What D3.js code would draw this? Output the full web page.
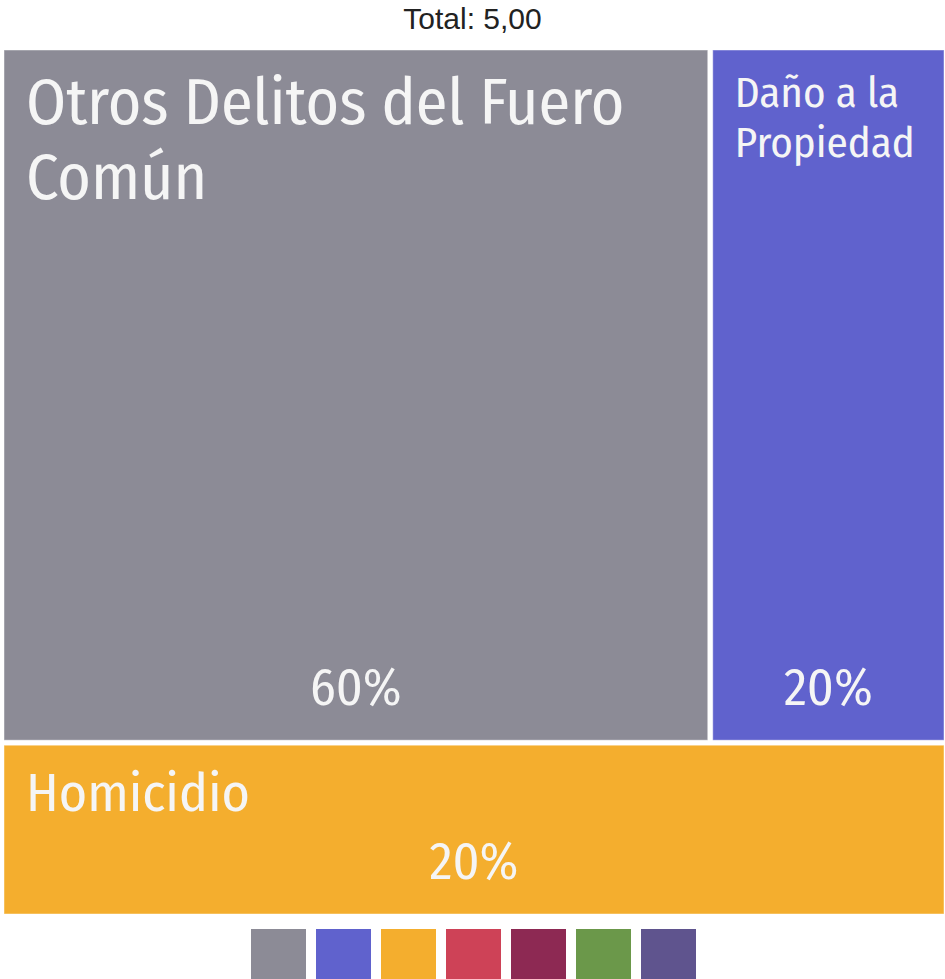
<!DOCTYPE html>
<html>
<head>
<meta charset="utf-8">
<script src="https://cdn.jsdelivr.net/npm/d3@7"></script>
<style>
    body { margin: 0; background: #fff; }
    svg { display: block; }
</style>
</head>
<body>
<svg id="chart"></svg>
<script>
// data
const categories = ["Otros Delitos del Fuero Común", "Daño a la Propiedad", "Homicidio"];
const values = [3, 1, 1];
const palette = ["#8c8b96", "#6062cd", "#f4ae2e", "#ce4257", "#8d2953", "#6b984a", "#5f548e"];

const width = 945;
const height = 979;
const labelFont = "'Fira Sans Condensed', Roboto, sans-serif";
const labelSize = { "Otros Delitos del Fuero Común": 64, "Daño a la Propiedad": 43, "Homicidio": 54 };

const locale = d3.formatLocale({ decimal: ",", thousands: ".", grouping: [3], currency: ["$", ""] });
const fmtTotal = locale.format(".2f");
const fmtPct = d3.format(".0%");

const svg = d3.select("#chart").attr("width", width).attr("height", height);

const total = d3.sum(values);

svg.append("text")
    .attr("x", width / 2)
    .attr("y", 29)
    .attr("text-anchor", "middle")
    .style("font-family", "Arial, 'Liberation Sans', sans-serif")
    .style("font-size", "30px")
    .style("fill", "#222")
    .text("Total: " + fmtTotal(total));

// top band holds all but the last category, the last one runs full width underneath
function bandTile(parent, x0, y0, x1, y1) {
    const kids = parent.children;
    const topKids = kids.slice(0, -1);
    const topSum = d3.sum(topKids, (d) => d.value);
    const ySplit = y0 + (y1 - y0) * topSum / parent.value;
    d3.treemapDice({ children: topKids, value: topSum }, x0, y0, x1, ySplit);
    d3.treemapDice({ children: kids.slice(-1), value: parent.value - topSum }, x0, ySplit, x1, y1);
}

const root = d3.hierarchy({ children: categories.map((c, i) => ({ name: c, value: values[i] })) })
    .sum((d) => d.value || 0);

d3.treemap()
    .tile(bandTile)
    .size([940, 864])
    .paddingInner(5)(root);

const color = d3.scaleOrdinal().domain(categories).range(palette);

const cells = svg.append("g")
    .attr("transform", "translate(4,50)")
    .selectAll("g")
    .data(root.leaves())
    .enter()
    .append("g")
    .attr("transform", (d) => `translate(${d.x0},${d.y0})`);

cells.append("rect")
    .attr("width", (d) => d.x1 - d.x0)
    .attr("height", (d) => d.y1 - d.y0)
    .style("fill", (d) => color(d.data.name))
    .style("stroke", "rgba(255,255,255,0.45)")
    .style("stroke-width", "1px");

// name, wrapped to the cell width
cells.each(function (d) {
    const g = d3.select(this);
    const size = labelSize[d.data.name];
    const maxW = d.x1 - d.x0 - 44;
    const text = g.append("text")
        .attr("x", 22)
        .attr("y", 22 + 0.81 * size)
        .style("font-family", labelFont)
        .style("font-size", size + "px")
        .style("fill", "#f5f5f5");
    const words = d.data.name.split(" ");
    let line = [];
    let tspan = text.append("tspan").attr("x", 22).attr("dy", 0);
    words.forEach((w) => {
        line.push(w);
        tspan.text(line.join(" "));
        if (tspan.node().getComputedTextLength() > maxW && line.length > 1) {
            line.pop();
            tspan.text(line.join(" "));
            line = [w];
            tspan = text.append("tspan").attr("x", 22).attr("dy", size * 1.17).text(w);
        }
    });
});

cells.append("text")
    .attr("x", (d) => (d.x1 - d.x0) / 2)
    .attr("y", (d) => d.y1 - d.y0 - 35)
    .attr("text-anchor", "middle")
    .style("font-family", labelFont)
    .style("font-size", "52px")
    .style("fill", "#f5f5f5")
    .text((d) => fmtPct(d.value / total));

// legend swatches
const legendX = d3.scaleBand()
    .domain(d3.range(palette.length))
    .range([251 - 5, 251 + palette.length * 65 - 5])
    .paddingInner(10 / 65)
    .paddingOuter(5 / 65);

svg.append("g")
    .selectAll("rect")
    .data(palette)
    .enter()
    .append("rect")
    .attr("x", (d, i) => legendX(i))
    .attr("y", 929)
    .attr("width", legendX.bandwidth())
    .attr("height", legendX.bandwidth())
    .style("fill", (d) => d);
</script>
</body>
</html>
